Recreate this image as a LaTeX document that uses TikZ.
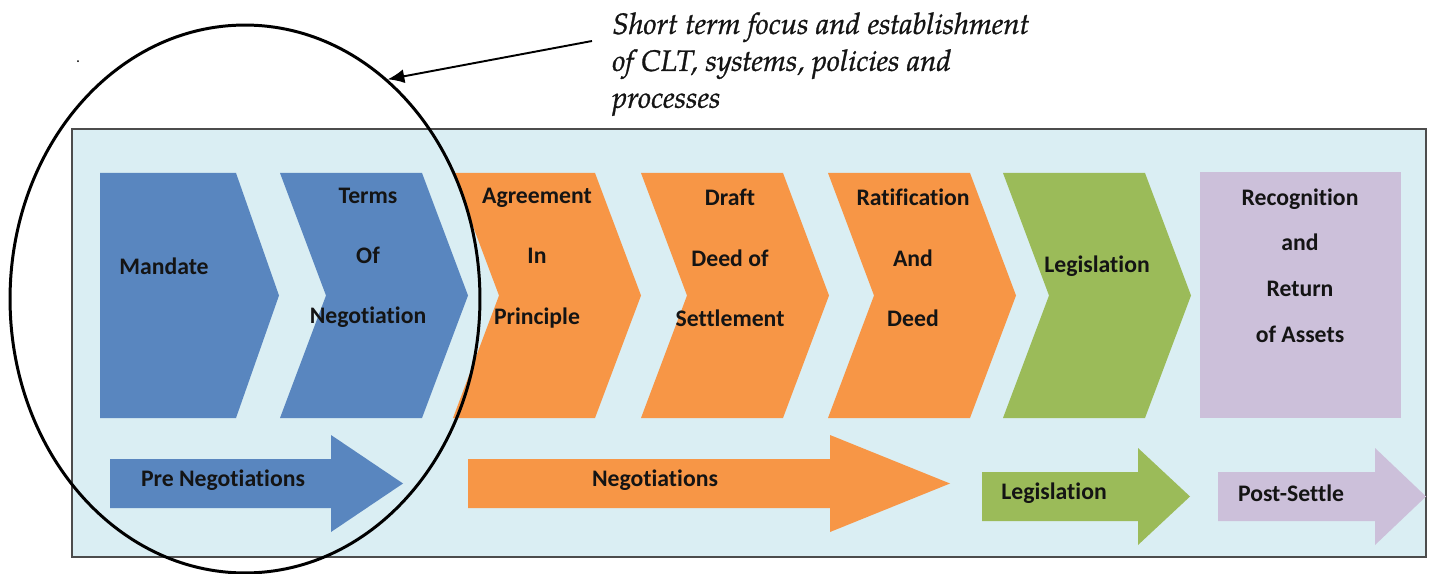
\documentclass[tikz,border=0pt]{standalone}
\usepackage{fontspec}
\setmainfont{Carlito}[Ligatures=NoCommon]
\newfontfamily\notefont{texgyrepagella-italic.otf}[FakeBold=1]
\usetikzlibrary{shapes.geometric,arrows.meta}

\definecolor{stageblue}{RGB}{89,134,191}
\definecolor{stageorange}{RGB}{247,150,70}
\definecolor{stagegreen}{RGB}{155,187,89}
\definecolor{stagelilac}{RGB}{204,192,218}
\definecolor{panelblue}{RGB}{218,238,243}

\begin{document}
\begin{tikzpicture}[
    x = 0.02cm, y = -0.02cm,
    every node/.append style = {align = center, text = black!92},
    stage lbl/.style = {font=\bfseries\fontsize{13.5}{34.3}\selectfont, inner sep=0},
    band lbl/.style = {font=\bfseries\fontsize{13.5}{16}\selectfont, inner sep=0},
    note lbl/.style = {align=left, font=\notefont\fontsize{16.8}{21}\selectfont, anchor=north west, inner sep=0}
]
\useasboundingbox (0,0) rectangle (1429,574);

\node[anchor=base, font=\small, inner sep=0] (dot) at (78,63) {.};

\draw[fill=panelblue, draw=black!70, line width=0.8pt] (72,129) rectangle (1426,557);

% stages
\fill[stageblue] (100,173) -- (236,173) -- (279,295.5) -- (236,418) -- (100,418) -- cycle;
\foreach \l/\c in {280/stageblue, 453/stageorange, 641/stageorange, 828/stageorange, 1003/stagegreen}{
    \fill[\c] (\l,173) -- ++(142,0) -- ++(46,122.5) -- ++(-46,122.5) -- ++(-142,0) -- ++(46,-122.5) -- cycle;
}
\fill[stagelilac] (1200,172) rectangle (1401,418);

\node[stage lbl, anchor=west] (mandate) at (119,266) {Mandate};
\node[stage lbl] (terms) at (368,258) {Terms\\Of\\Negotiation};
\node[stage lbl] (aip) at (537,258) {Agreement\\In\\Principle};
\node[stage lbl] (deed) at (730,258) {Draft\\Deed of\\Settlement};
\node[stage lbl] (ratif) at (913,258) {Ratification\\And\\Deed};
\node[stage lbl] (legis) at (1097,266) {Legislation};
\node[stage lbl, font=\bfseries\fontsize{13.5}{26}\selectfont] (recog) at (1300,265.5)
    {Recognition\\and\\Return\\of Assets};

% phases
\foreach \a/\b/\t/\y/\c in {110/331/403/483.5/stageblue, 468/830/950/483.5/stageorange,
    982/1138/1190/496.5/stagegreen, 1218/1375/1426/496.5/stagelilac}{
    \fill[\c] (\a,\y-24.5) -- (\b,\y-24.5) -- (\b,\y-48.5) -- (\t,\y) -- (\b,\y+48.5)
        -- (\b,\y+24.5) -- (\a,\y+24.5) -- cycle;
}
\node[band lbl] (pre) at (223,480) {Pre Negotiations};
\node[band lbl] (negot) at (655,480) {Negotiations};
\node[band lbl] (legband) at (1054,493) {Legislation};
\node[band lbl] (post) at (1291,493) {Post-Settle};

\node[draw, ellipse, line width=1.7pt, minimum width=9.4cm, minimum height=10.96cm, inner sep=0] (ring) at (245,299) {};

\node[note lbl] (focus) at (612,12) {Short term focus and establishment\\of CLT, systems, policies and\\processes};
\coordinate (tail) at (592,41);
\draw[-{Latex[length=9.5pt,width=8pt]}, line width=1.1pt] (tail) -- (ring.57);

\end{tikzpicture}
\end{document}
